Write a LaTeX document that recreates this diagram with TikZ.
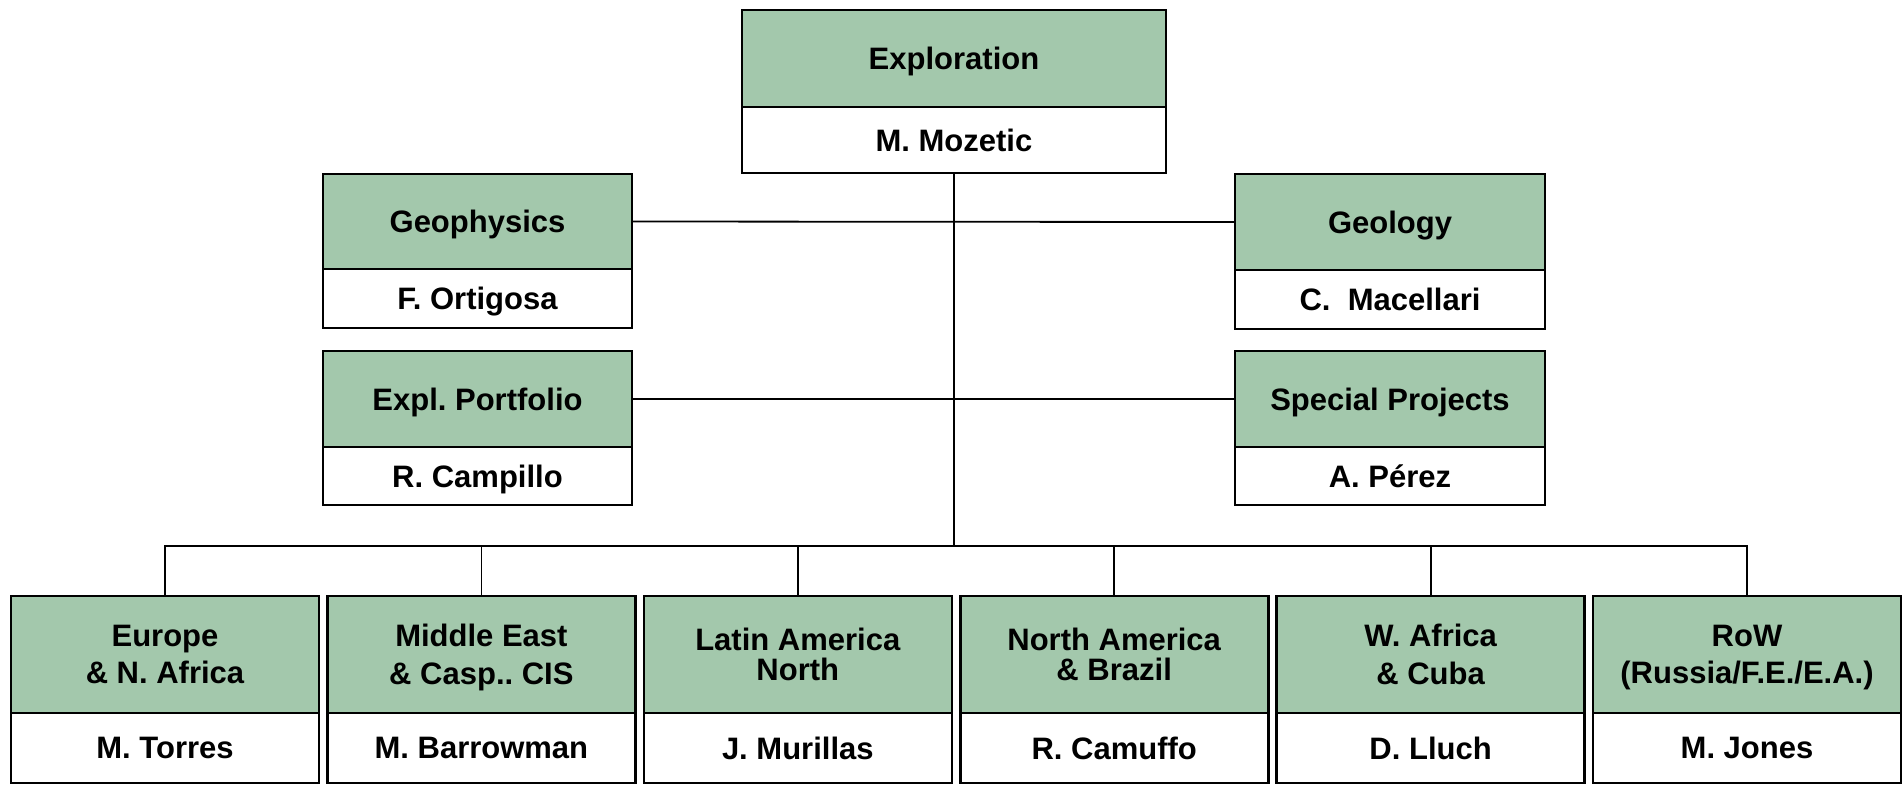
\documentclass[tikz,border=0pt]{standalone}
\usepackage{fontspec}
\setmainfont{Liberation Sans}
\usetikzlibrary{positioning}
\definecolor{unitgreen}{RGB}{163,200,172}
\tikzset{
unitbox/.style={shape=rectangle, draw, line width=1.3pt, outer sep=0, inner sep=2pt, text depth=0pt, align=center, font=\fontsize{15.5}{18.75}\selectfont\bfseries\frenchspacing}, headbox/.style={unitbox, fill=unitgreen}, namebox/.style={unitbox, fill=white}, link/.style={line width=0.9pt}}

\begin{document}
\begin{tikzpicture}[x=0.5pt, y=-0.5pt]
\useasboundingbox (0,0) rectangle (1903,784);
\coordinate (bus) at (954, 546);

% top unit
\node [headbox, minimum width=212pt, minimum height=48.5pt] at (954, 58.5) (head-top) {Exploration};
\node [namebox, minimum width=212pt, minimum height=33pt, below=0pt of head-top] (name-top) {M. Mozetic};
\draw [link] (name-top.south) -- (bus);

% staff units
\node [headbox, minimum width=154.5pt, minimum height=47.5pt] at (477.5, 221.5) (head-geoph) {Geophysics};
\node [namebox, minimum width=154.5pt, minimum height=29.5pt, below=0pt of head-geoph] (name-geoph) {F. Ortigosa};
\node [headbox, minimum width=154.5pt, minimum height=48pt] at (477.5, 399) (head-port) {Expl. Portfolio};
\node [namebox, minimum width=154.5pt, minimum height=29pt, below=0pt of head-port] (name-port) {R. Campillo};
\node [headbox, minimum width=155pt, minimum height=48pt] at (1390, 222) (head-geol) {Geology};
\node [namebox, minimum width=155pt, minimum height=29.5pt, below=0pt of head-geol] (name-geol) {C.\ \ Macellari};
\node [headbox, minimum width=155pt, minimum height=48pt] at (1390, 399) (head-spec) {Special Projects};
\node [namebox, minimum width=155pt, minimum height=29pt, below=0pt of head-spec] (name-spec) {A. Pérez};
\draw [link] (head-geoph.east) -- (head-geol.west);
\draw [link] (head-port.east) -- (head-spec.west);

% regional units
\foreach \htext/\nname/\lsp [count=\j, evaluate={\xc=165+316.4*(\j-1);}] in {
      {Europe\\\& N. Africa}/M. Torres/18.75,
      {Middle East\\\& Casp.. CIS}/M. Barrowman/18.75,
      {Latin America\\North}/J. Murillas/15.25,
      {North America\\\& Brazil}/R. Camuffo/15.25,
      {W. Africa\\\& Cuba}/D. Lluch/18.75,
      {RoW\\(Russia/F.E./E.A.)}/M. Jones/18.75}{
      \node [headbox, minimum width=154pt, minimum height=58.5pt, font=\fontsize{15.5}{\lsp}\selectfont\bfseries\frenchspacing] at (\xc, 654.5) (head-\j) {\htext};
      \node [namebox, minimum width=154pt, minimum height=35pt, below=0pt of head-\j] (name-\j) {\nname};
      \draw [link] (head-\j.north) |- (bus);
}
\end{tikzpicture}
\end{document}
